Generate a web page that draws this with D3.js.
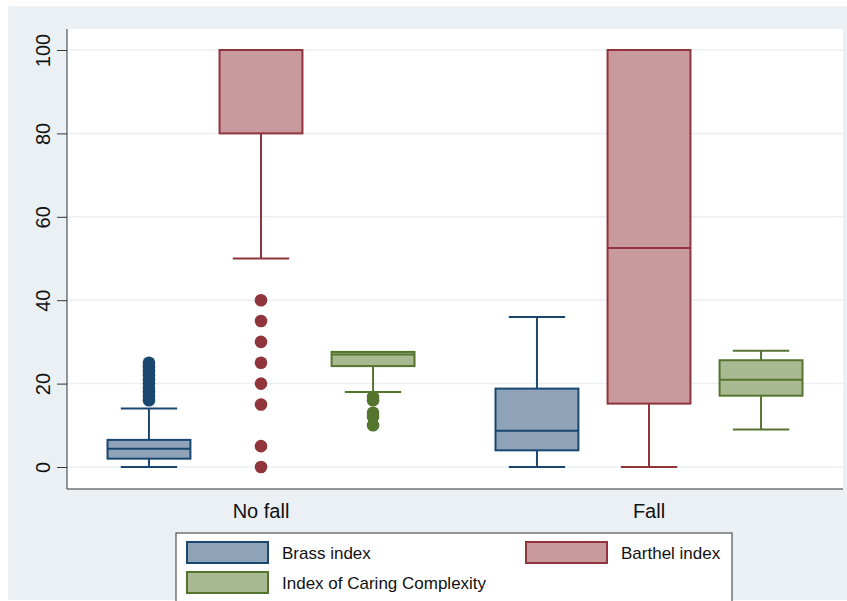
<!DOCTYPE html>
<html>
<head>
<meta charset="utf-8">
<script src="https://cdn.jsdelivr.net/npm/d3@7"></script>
<style>
  body { margin: 0; background: #fff; }
  text { font-family: "Liberation Sans", Arial, sans-serif; fill: #111; }
</style>
</head>
<body>
<div id="vizContainer"></div>
<script>
let w = 847;
let h = 601;

// data
let groups = ["No fall", "Fall"];
let seriesNames = ["Brass index", "Barthel index", "Index of Caring Complexity"];
let yTicks = [0, 20, 40, 60, 80, 100];

// [lowWhisker, q1, median, q3, highWhisker] per group
let brass = [[0, 2, 4.4, 6.5, 14], [0, 4, 8.7, 18.8, 36]];
let barthel = [[50, 80, 100, 100, 100], [0, 15.2, 52.5, 100, 100]];
let icc = [[18, 24.2, 27, 27.6, 27.6], [9, 17.1, 20.9, 25.6, 27.9]];

let brassOut = [[16, 17, 18, 19, 20, 21, 22, 23, 24, 25], []];
let barthelOut = [[0, 5, 15, 20, 25, 30, 35, 40], []];
let iccOut = [[10, 12, 13, 16, 16.8], []];

let strokes = ["#1a476f", "#90353b", "#55752f"];
let fills = ["#8fa3b8", "#c8999d", "#a9b991"];

let series = [
  { name: seriesNames[0], stats: brass, out: brassOut },
  { name: seriesNames[1], stats: barthel, out: barthelOut },
  { name: seriesNames[2], stats: icc, out: iccOut }
];

let viz = d3.select('#vizContainer').append('svg')
  .attr('width', w)
  .attr('height', h)
  .style('display', 'block');

viz.append('rect')
  .attr('x', 8).attr('y', 6)
  .attr('width', w - 8).attr('height', 594)
  .attr('fill', '#eaf0f3');

let plot = { left: 67, right: 843, top: 29, bottom: 489 };

viz.append('rect')
  .attr('x', plot.left).attr('y', plot.top)
  .attr('width', plot.right - plot.left).attr('height', plot.bottom - plot.top)
  .attr('fill', 'white');

let yScale = d3.scaleLinear().domain([0, 100]).range([467, 50]);
let xGroup = d3.scaleBand().domain(groups).range([plot.left, plot.right]);
let xSeries = d3.scaleBand().domain(seriesNames).range([-153.5, 153.5]).paddingInner(0.26);

// grid
viz.append('g').selectAll('line').data(yTicks).enter().append('line')
  .attr('x1', plot.left).attr('x2', plot.right)
  .attr('y1', d => yScale(d)).attr('y2', d => yScale(d))
  .attr('stroke', '#eaf0f3').attr('stroke-width', 1.5);

// y axis
let yAxis = d3.axisLeft(yScale).tickValues(yTicks).tickSize(10).tickPadding(20);
let yg = viz.append('g').attr('transform', 'translate(' + plot.left + ',0)').call(yAxis);
yg.select('.domain').attr('d', 'M0,' + plot.top + 'V' + plot.bottom).attr('stroke', '#333');
yg.selectAll('.tick line').attr('stroke', '#333');
yg.selectAll('.tick text')
  .attr('x', 0).attr('dy', '0.35em')
  .attr('transform', 'translate(-24,0) rotate(-90)')
  .attr('text-anchor', 'middle')
  .style('font-size', '20px')
  .style('fill', '#111');

// x axis line and labels
viz.append('line')
  .attr('x1', plot.left).attr('x2', plot.right)
  .attr('y1', plot.bottom).attr('y2', plot.bottom)
  .attr('stroke', '#333').attr('stroke-width', 1.2);

viz.append('g').selectAll('text').data(groups).enter().append('text')
  .attr('x', d => xGroup(d) + xGroup.bandwidth() / 2)
  .attr('y', 518)
  .attr('text-anchor', 'middle')
  .style('font-size', '20px')
  .text(d => d);

// boxes
let boxGroup = viz.append('g').attr('class', 'boxes');
series.forEach(function(s, si) {
  groups.forEach(function(g, gi) {
    let st = s.stats[gi];
    let x0 = xGroup(g) + xGroup.bandwidth() / 2 + xSeries(s.name);
    let bw = xSeries.bandwidth();
    let cx = x0 + bw / 2;
    let cap = bw * 0.68;
    let bg = boxGroup.append('g');
    // whiskers
    bg.append('line').attr('x1', cx).attr('x2', cx)
      .attr('y1', yScale(st[0])).attr('y2', yScale(st[1]))
      .attr('stroke', strokes[si]).attr('stroke-width', 2);
    bg.append('line').attr('x1', cx).attr('x2', cx)
      .attr('y1', yScale(st[3])).attr('y2', yScale(st[4]))
      .attr('stroke', strokes[si]).attr('stroke-width', 2);
    bg.append('line').attr('x1', cx - cap / 2).attr('x2', cx + cap / 2)
      .attr('y1', yScale(st[0])).attr('y2', yScale(st[0]))
      .attr('stroke', strokes[si]).attr('stroke-width', 2);
    bg.append('line').attr('x1', cx - cap / 2).attr('x2', cx + cap / 2)
      .attr('y1', yScale(st[4])).attr('y2', yScale(st[4]))
      .attr('stroke', strokes[si]).attr('stroke-width', 2);
    // box
    bg.append('rect')
      .attr('x', x0).attr('width', bw)
      .attr('y', yScale(st[3])).attr('height', yScale(st[1]) - yScale(st[3]))
      .attr('fill', fills[si]).attr('stroke', strokes[si]).attr('stroke-width', 2);
    bg.append('line').attr('x1', x0).attr('x2', x0 + bw)
      .attr('y1', yScale(st[2])).attr('y2', yScale(st[2]))
      .attr('stroke', strokes[si]).attr('stroke-width', 2);
    // outliers
    bg.selectAll('circle').data(s.out[gi]).enter().append('circle')
      .attr('cx', cx).attr('cy', d => yScale(d)).attr('r', 6.3)
      .attr('fill', strokes[si]);
  });
});

// legend
let leg = viz.append('g').attr('transform', 'translate(176,533)');
leg.append('rect').attr('width', 556).attr('height', 72)
  .attr('fill', 'white').attr('stroke', '#333').attr('stroke-width', 1);
let legPos = [[11, 9], [350, 9], [11, 39]];
series.forEach(function(s, si) {
  let item = leg.append('g').attr('transform', 'translate(' + legPos[si][0] + ',' + legPos[si][1] + ')');
  item.append('rect').attr('width', 81).attr('height', 21)
    .attr('fill', fills[si]).attr('stroke', strokes[si]).attr('stroke-width', 2);
  item.append('text').attr('x', 95).attr('y', 17)
    .style('font-size', '17px').text(s.name);
});
</script>
</body>
</html>
